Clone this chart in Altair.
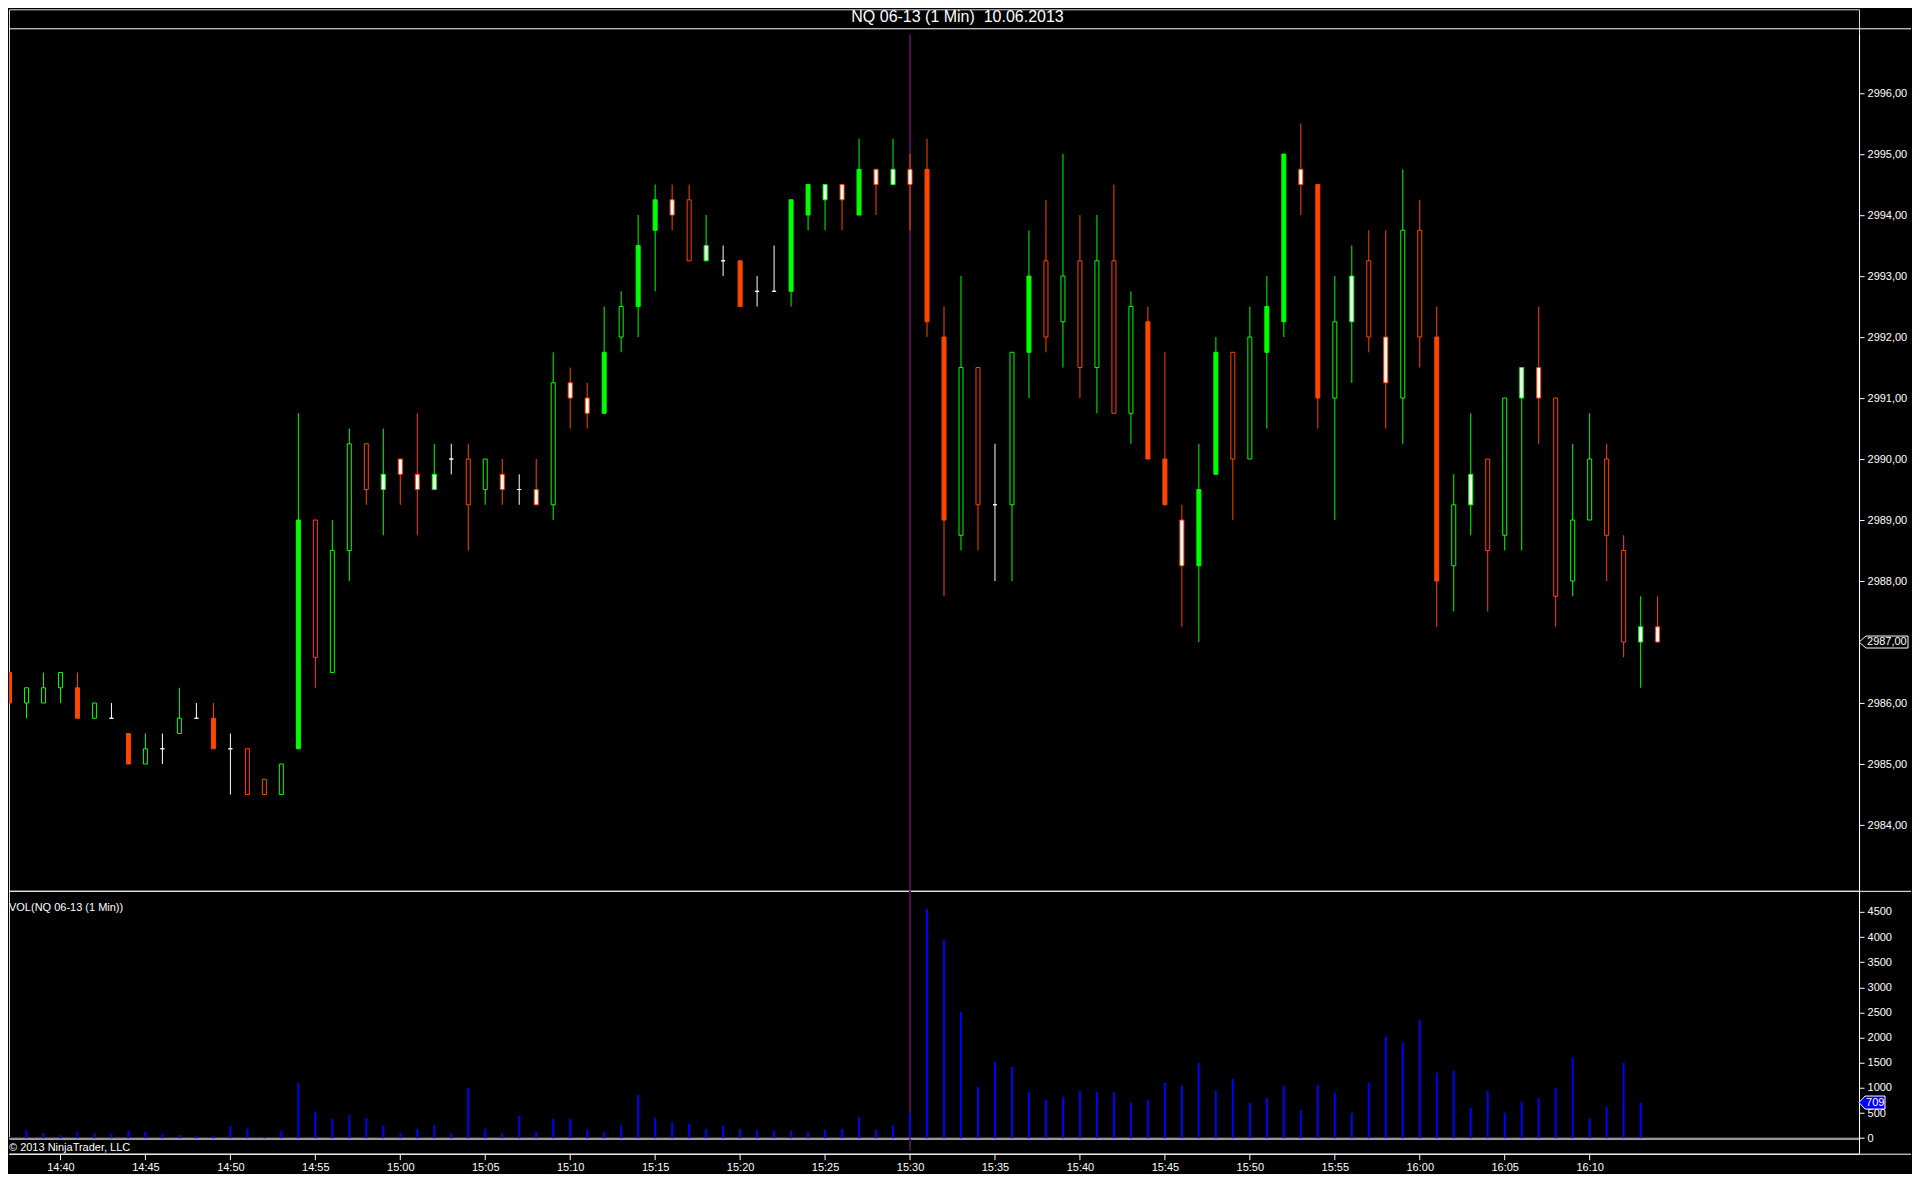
import altair as alt
import pandas as pd

TITLE = "NQ 06-13 (1 Min)\u00a0 10.06.2013"
VOL_TITLE = "VOL(NQ 06-13 (1 Min))"
COPYRIGHT = "\u00a9 2013 NinjaTrader, LLC"

times = [
    "14:37", "14:38", "14:39", "14:40", "14:41", "14:42", "14:43", "14:44", "14:45", "14:46",
    "14:47", "14:48", "14:49", "14:50", "14:51", "14:52", "14:53", "14:54", "14:55", "14:56",
    "14:57", "14:58", "14:59", "15:00", "15:01", "15:02", "15:03", "15:04", "15:05", "15:06",
    "15:07", "15:08", "15:09", "15:10", "15:11", "15:12", "15:13", "15:14", "15:15", "15:16",
    "15:17", "15:18", "15:19", "15:20", "15:21", "15:22", "15:23", "15:24", "15:25", "15:26",
    "15:27", "15:28", "15:29", "15:30", "15:31", "15:32", "15:33", "15:34", "15:35", "15:36",
    "15:37", "15:38", "15:39", "15:40", "15:41", "15:42", "15:43", "15:44", "15:45", "15:46",
    "15:47", "15:48", "15:49", "15:50", "15:51", "15:52", "15:53", "15:54", "15:55", "15:56",
    "15:57", "15:58", "15:59", "16:00", "16:01", "16:02", "16:03", "16:04", "16:05", "16:06",
    "16:07", "16:08", "16:09", "16:10", "16:11", "16:12", "16:13", "16:14",
]

opens = [
    2986.5, 2986.0, 2986.0, 2986.25, 2986.25, 2985.75, 2985.75, 2985.5, 2985.0, 2985.25,
    2985.5, 2985.75, 2985.75, 2985.25, 2985.25, 2984.75, 2984.5, 2985.25, 2989.0, 2986.5,
    2988.5, 2990.25, 2989.5, 2990.0, 2989.75, 2989.5, 2990.0, 2990.0, 2989.5, 2989.75,
    2989.5, 2989.5, 2989.25, 2991.25, 2991.0, 2990.75, 2992.0, 2992.5, 2993.75, 2994.25,
    2994.25, 2993.25, 2993.25, 2993.25, 2992.75, 2992.75, 2992.75, 2994.0, 2994.25, 2994.5,
    2994.0, 2994.75, 2994.5, 2994.75, 2994.75, 2992.0, 2988.75, 2991.5, 2989.25, 2989.25,
    2991.75, 2993.25, 2992.25, 2993.25, 2991.5, 2993.25, 2990.75, 2992.25, 2990.0, 2989.0,
    2988.25, 2989.75, 2991.75, 2990.0, 2991.75, 2992.25, 2994.75, 2994.5, 2991.0, 2992.25,
    2993.25, 2992.0, 2991.0, 2993.75, 2992.0, 2988.25, 2989.25, 2990.0, 2988.75, 2991.0,
    2991.5, 2991.0, 2988.0, 2989.0, 2990.0, 2988.5, 2987.0, 2987.25,
]

highs = [
    2986.5, 2986.25, 2986.5, 2986.5, 2986.5, 2986.0, 2986.0, 2985.5, 2985.5, 2985.5,
    2986.25, 2986.0, 2986.0, 2985.5, 2985.25, 2984.75, 2985.0, 2990.75, 2989.0, 2989.0,
    2990.5, 2990.25, 2990.5, 2990.0, 2990.75, 2990.25, 2990.25, 2990.25, 2990.0, 2990.0,
    2989.75, 2990.0, 2991.75, 2991.5, 2991.25, 2992.5, 2992.75, 2994.0, 2994.5, 2994.5,
    2994.5, 2994.0, 2993.5, 2993.25, 2993.0, 2993.5, 2994.25, 2994.5, 2994.5, 2994.5,
    2995.25, 2994.75, 2995.25, 2995.0, 2995.25, 2992.5, 2993.0, 2991.5, 2990.25, 2991.75,
    2993.75, 2994.25, 2995.0, 2994.0, 2994.0, 2994.5, 2992.75, 2992.5, 2991.75, 2989.25,
    2990.25, 2992.0, 2991.75, 2992.5, 2993.0, 2995.0, 2995.5, 2994.5, 2993.0, 2993.5,
    2993.75, 2993.75, 2994.75, 2994.25, 2992.5, 2989.75, 2990.75, 2990.0, 2991.0, 2991.5,
    2992.5, 2991.0, 2990.25, 2990.75, 2990.25, 2988.75, 2987.75, 2987.75,
]

lows = [
    2986.0, 2985.75, 2986.0, 2986.0, 2985.75, 2985.75, 2985.75, 2985.0, 2985.0, 2985.0,
    2985.5, 2985.75, 2985.25, 2984.5, 2984.5, 2984.5, 2984.5, 2985.25, 2986.25, 2986.5,
    2988.0, 2989.25, 2988.75, 2989.25, 2988.75, 2989.5, 2989.75, 2988.5, 2989.25, 2989.25,
    2989.25, 2989.25, 2989.0, 2990.5, 2990.5, 2990.75, 2991.75, 2992.0, 2992.75, 2993.75,
    2993.25, 2993.25, 2993.0, 2992.5, 2992.5, 2992.75, 2992.5, 2993.75, 2993.75, 2993.75,
    2994.0, 2994.0, 2994.5, 2993.75, 2992.0, 2987.75, 2988.5, 2988.5, 2988.0, 2988.0,
    2991.0, 2991.75, 2991.5, 2991.0, 2990.75, 2990.75, 2990.25, 2990.0, 2989.25, 2987.25,
    2987.0, 2989.75, 2989.0, 2990.0, 2990.5, 2992.0, 2994.0, 2990.5, 2989.0, 2991.25,
    2991.75, 2990.5, 2990.25, 2991.5, 2987.25, 2987.5, 2988.75, 2987.5, 2988.5, 2988.5,
    2990.25, 2987.25, 2987.75, 2989.0, 2988.0, 2986.75, 2986.25, 2987.0,
]

closes = [
    2986.0, 2986.25, 2986.25, 2986.5, 2985.75, 2986.0, 2985.75, 2985.0, 2985.25, 2985.25,
    2985.75, 2985.75, 2985.25, 2985.25, 2984.5, 2984.5, 2985.0, 2989.0, 2986.75, 2988.5,
    2990.25, 2989.5, 2989.75, 2989.75, 2989.5, 2989.75, 2990.0, 2989.25, 2990.0, 2989.5,
    2989.5, 2989.25, 2991.25, 2991.0, 2990.75, 2991.75, 2992.5, 2993.5, 2994.25, 2994.0,
    2993.25, 2993.5, 2993.25, 2992.5, 2992.75, 2992.75, 2994.25, 2994.5, 2994.5, 2994.25,
    2994.75, 2994.5, 2994.75, 2994.5, 2992.25, 2989.0, 2991.5, 2989.25, 2989.25, 2991.75,
    2993.0, 2992.0, 2993.0, 2991.5, 2993.25, 2990.75, 2992.5, 2990.0, 2989.25, 2988.25,
    2989.5, 2991.75, 2990.0, 2992.0, 2992.5, 2995.0, 2994.5, 2991.0, 2992.25, 2993.0,
    2992.0, 2991.25, 2993.75, 2992.0, 2988.0, 2989.25, 2989.75, 2988.5, 2991.0, 2991.5,
    2991.0, 2987.75, 2989.0, 2990.0, 2988.75, 2987.0, 2987.25, 2987.0,
]

volumes = [
    25, 166, 106, 66, 126, 106, 86, 146, 126, 86,
    66, 46, 46, 245, 186, 27, 146, 1100, 524, 385,
    464, 404, 245, 106, 186, 265, 106, 1001, 186, 106,
    444, 126, 385, 385, 166, 126, 265, 862, 404, 305,
    285, 186, 245, 186, 166, 146, 146, 126, 166, 186,
    424, 166, 265, 504, 4561, 3945, 2513, 1021, 1518, 1419,
    922, 762, 822, 941, 922, 922, 703, 762, 1101, 1041,
    1498, 941, 1180, 703, 802, 1041, 544, 1061, 902, 504,
    1101, 2016, 1896, 2354, 1300, 1339, 603, 941, 504, 723,
    802, 1001, 1598, 385, 623, 1498, 709, None,
]

# body state: S = solid, H = hollow, W = white-filled, D = doji
bar_state = [
    "S", "H", "H", "H", "S", "H", "D", "S", "H", "D",
    "H", "D", "S", "D", "H", "H", "H", "S", "H", "H",
    "H", "H", "W", "W", "W", "W", "D", "H", "H", "W",
    "D", "W", "H", "W", "W", "S", "H", "S", "S", "W",
    "H", "W", "D", "S", "D", "D", "S", "S", "W", "W",
    "S", "W", "W", "W", "S", "S", "H", "H", "D", "H",
    "S", "H", "H", "H", "H", "H", "H", "S", "S", "W",
    "S", "S", "H", "H", "S", "S", "W", "S", "H", "W",
    "H", "W", "H", "H", "S", "H", "W", "H", "H", "W",
    "W", "H", "H", "H", "H", "H", "W", "W",
]

price_ticks = [2984, 2985, 2986, 2987, 2988, 2989, 2990, 2991, 2992, 2993, 2994, 2995, 2996]
vol_ticks = [0, 500, 1000, 1500, 2000, 2500, 3000, 3500, 4000, 4500]
time_ticks = ["14:40", "14:45", "14:50", "14:55", "15:00", "15:05", "15:10", "15:15", "15:20",
              "15:25", "15:30", "15:35", "15:40", "15:45", "15:50", "15:55", "16:00", "16:05", "16:10"]
marker_time = "15:30"


def to_min(t):
    h, m = t.split(":")
    return int(h) * 60 + int(m)


rows = []
for t, o, h, l, c, v, s in zip(times, opens, highs, lows, closes, volumes, bar_state):
    d = "up" if c > o else ("down" if c < o else "flat")
    if s == "S":
        fk = d
    elif s == "W":
        fk = "white"
    else:
        fk = "hollow"
    rows.append({"m": to_min(t), "open": o, "high": h, "low": l, "close": c,
                 "vol": v, "dir": d, "fillkey": fk})
df = pd.DataFrame(rows)

GREEN = "#00FF00"
ORANGE = "#FF4500"
WHITE = "#FFFFFF"
BLUE = "#0000FF"
PURPLE = "#4D0F4D"
FONT = "Liberation Sans"

W = 1851
H1 = 882
H2 = 248
x0 = to_min(times[0]) - 0.5 / 17
x1 = x0 + W / 17.0

xs = alt.Scale(domain=[x0, x1], nice=False, zero=False, padding=0)
ys = alt.Scale(domain=[2982.921, 2997.373], nice=False, zero=False, padding=0)
vs = alt.Scale(domain=[-10, 4919], nice=False, zero=False, padding=0)
dir_scale = alt.Scale(domain=["up", "down", "flat"], range=[GREEN, ORANGE, WHITE])
fill_scale = alt.Scale(domain=["up", "down", "flat", "hollow", "white"],
                       range=[GREEN, ORANGE, WHITE, "#000000", WHITE])

axis_style = dict(title=None, grid=False, domainColor=WHITE, tickColor=WHITE,
                  labelColor=WHITE, labelFont=FONT, labelFontSize=11,
                  domainWidth=1, tickWidth=1)

price_axis = alt.Axis(orient="right", values=price_ticks, tickSize=5, labelPadding=3,
                      domain=False,
                      labelExpr="replace(format(datum.value, '.2f'), '.', ',')",
                      **axis_style)
vol_axis = alt.Axis(orient="right", values=vol_ticks, tickSize=5, labelPadding=3,
                    format="d", **axis_style)
x_axis = alt.Axis(orient="bottom", values=[to_min(t) for t in time_ticks], offset=15,
                  tickSize=6, labelPadding=2, labelFlush=False,
                  labelExpr="floor(datum.value / 60) + ':' + (datum.value % 60 < 10 ? '0' : '') + (datum.value % 60)",
                  **axis_style)

x_none = alt.X("m:Q", scale=xs, axis=None)
one = pd.DataFrame({"mk": [to_min(marker_time)]})
last = df.iloc[[-1]].copy()
last_vol = df[df["vol"].notna()].iloc[[-1]].copy()

# ---------------- price panel ----------------
base = alt.Chart(df)
wicks = base.mark_rule(strokeWidth=1, clip=True).encode(
    x=x_none,
    y=alt.Y("low:Q", scale=ys, axis=price_axis),
    y2="high:Q",
    color=alt.Color("dir:N", scale=dir_scale, legend=None),
)
bodies = base.mark_bar(width=4, strokeWidth=1, clip=True).encode(
    x=x_none,
    y=alt.Y("open:Q", scale=ys, axis=price_axis),
    y2="close:Q",
    stroke=alt.Stroke("dir:N", scale=dir_scale, legend=None),
    fill=alt.Fill("fillkey:N", scale=fill_scale, legend=None),
)
purple_p = alt.Chart(one).mark_rule(color=PURPLE, strokeWidth=2).encode(
    x=alt.X("mk:Q", scale=xs, axis=None), y=alt.value(25), y2=alt.value(H1)
)
axis_line = alt.Chart(one).mark_rule(color=WHITE, strokeWidth=1).encode(
    x=alt.value(W + 0.5), y=alt.value(25), y2=alt.value(H1)
)
top_line = alt.Chart(one).mark_rule(color=WHITE, strokeWidth=1).encode(
    x=alt.value(0), x2=alt.value(1903), y=alt.value(19.5)
)
sep_line = alt.Chart(one).mark_rule(color=WHITE, strokeWidth=1).encode(
    x=alt.value(0), x2=alt.value(1903), y=alt.value(H1 + 0.5)
)
title_txt = alt.Chart(pd.DataFrame({"t": [TITLE]})).mark_text(
    align="center", baseline="top", color=WHITE, font=FONT, fontSize=16
).encode(x=alt.value(949), y=alt.value(0), text="t:N")

last_box = alt.Chart(last).mark_point(
    shape="M0,0 L0.7,-0.6 L4.9,-0.6 L4.9,0.6 L0.7,0.6 Z", size=400, filled=True,
    fill="#000000", stroke=WHITE, strokeWidth=1, opacity=1
).encode(x=alt.value(W), y=alt.Y("close:Q", scale=ys, axis=price_axis))
last_txt = alt.Chart(last).transform_calculate(
    lbl="replace(format(datum.close, '.2f'), '.', ',')"
).mark_text(align="left", baseline="middle", dx=8, color=WHITE, font=FONT, fontSize=11).encode(
    x=alt.value(W), y=alt.Y("close:Q", scale=ys, axis=price_axis), text="lbl:N"
)

price = alt.layer(purple_p, wicks, bodies, axis_line, top_line, sep_line, title_txt,
                  last_box, last_txt).properties(width=W, height=H1)

# ---------------- volume panel ----------------
vol_bars = alt.Chart(df).transform_filter("isValid(datum.vol)").mark_bar(
    width=2, color=BLUE, clip=True
).encode(
    x=alt.X("m:Q", scale=xs, axis=x_axis),
    y=alt.Y("vol:Q", scale=vs, axis=vol_axis),
    y2=alt.datum(0),
)
zero_df = pd.DataFrame({"z": [0]})
baseline = alt.Chart(zero_df).mark_rule(color="#B4B4B4", strokeWidth=1).encode(
    x=alt.value(0), x2=alt.value(W), y=alt.Y("z:Q", scale=vs, axis=vol_axis)
)
purple_v = alt.Chart(one).mark_rule(color=PURPLE, strokeWidth=2).encode(
    x=alt.X("mk:Q", scale=xs, axis=x_axis), y=alt.value(0), y2=alt.value(H2 + 12)
)
axis_ext = alt.Chart(one).mark_rule(color=WHITE, strokeWidth=1).encode(
    x=alt.value(W + 0.5), y=alt.value(H2), y2=alt.value(H2 + 15)
)
bottom_line = alt.Chart(one).mark_rule(color=WHITE, strokeWidth=1).encode(
    x=alt.value(0), x2=alt.value(1903), y=alt.value(H2 + 15.5)
)
vol_title = alt.Chart(pd.DataFrame({"t": [VOL_TITLE]})).mark_text(
    align="left", baseline="middle", color=WHITE, font=FONT, fontSize=11
).encode(x=alt.value(0), y=alt.value(17), text="t:N")
copy_txt = alt.Chart(pd.DataFrame({"t": [COPYRIGHT]})).mark_text(
    align="left", baseline="middle", color=WHITE, font=FONT, fontSize=11
).encode(x=alt.value(0), y=alt.value(257), text="t:N")
vol_box = alt.Chart(last_vol).mark_point(
    shape="M0,0 L0.6,-0.65 L2.6,-0.65 L2.6,0.65 L0.6,0.65 Z", size=400, filled=True,
    fill=BLUE, stroke=WHITE, strokeWidth=1, opacity=1
).encode(x=alt.value(W), y=alt.Y("vol:Q", scale=vs, axis=vol_axis))
vol_txt = alt.Chart(last_vol).mark_text(
    align="left", baseline="middle", dx=7, color=WHITE, font=FONT, fontSize=11
).encode(x=alt.value(W), y=alt.Y("vol:Q", scale=vs, axis=vol_axis), text="vol:Q")

volume = alt.layer(purple_v, baseline, vol_bars, axis_ext, bottom_line, vol_title, copy_txt,
                   vol_box, vol_txt).properties(width=W, height=H2)

chart = alt.vconcat(price, volume, spacing=0, bounds="flush").properties(
    padding=0, background="#000000"
).configure_view(stroke=None).configure(font=FONT)

chart.save("out.html", embed_options={"renderer": "svg", "actions": False})
